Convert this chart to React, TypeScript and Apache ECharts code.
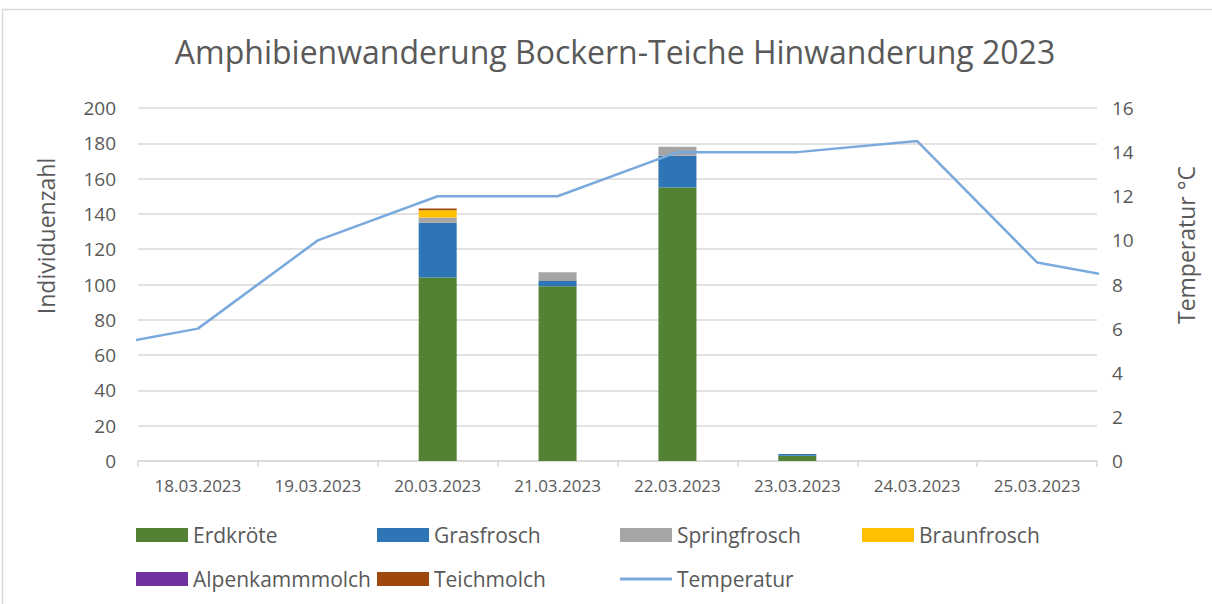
import React, { useEffect, useRef } from "react";
import * as echarts from "echarts";

const categories = ["18.03.2023", "19.03.2023", "20.03.2023", "21.03.2023", "22.03.2023", "23.03.2023", "24.03.2023", "25.03.2023"];
const erdkroete = [0, 0, 104, 99, 155, 3, 0, 0];
const grasfrosch = [0, 0, 31, 3, 18, 1, 0, 0];
const springfrosch = [0, 0, 3, 5, 5, 0, 0, 0];
const braunfrosch = [0, 0, 4, 0, 0, 0, 0, 0];
const alpenkammmolch = [0, 0, 0, 0, 0, 0, 0, 0];
const teichmolch = [0, 0, 1, 0, 0, 0, 0, 0];
// temperature from 17.03 to 26.03 (first and last lie outside the visible axis range)
const tempDays = ["17.03.2023", ...categories, "26.03.2023"];
const temperatur = [5, 6, 10, 12, 12, 14, 14, 14.5, 9, 8];

const leftTicks = { min: 0, max: 200, interval: 20 };
const rightTicks = { min: 0, max: 16, interval: 2 };

const barSeries = [
  { name: "Erdkröte", data: erdkroete, color: "#548235" },
  { name: "Grasfrosch", data: grasfrosch, color: "#2e75b6" },
  { name: "Springfrosch", data: springfrosch, color: "#a5a5a5" },
  { name: "Braunfrosch", data: braunfrosch, color: "#ffc000" },
  { name: "Alpenkammmolch", data: alpenkammmolch, color: "#7030a0" },
  { name: "Teichmolch", data: teichmolch, color: "#9e480e" },
];

const legendPos = [
  { name: "Erdkröte", left: 136, top: 523, h: 14 },
  { name: "Grasfrosch", left: 377, top: 523, h: 14 },
  { name: "Springfrosch", left: 620, top: 523, h: 14 },
  { name: "Braunfrosch", left: 862, top: 523, h: 14 },
  { name: "Alpenkammmolch", left: 136, top: 567, h: 14 },
  { name: "Teichmolch", left: 377, top: 567, h: 14 },
  { name: "Temperatur", left: 620, top: 567, h: 3 },
];

const FONT = "'Open Sans', sans-serif";
const TXT = "#595959";

export default function App() {
  const ref = useRef<HTMLDivElement>(null);
  useEffect(() => {
    if (!ref.current) return;
    const chart = echarts.init(ref.current, null, { renderer: "svg" });
    const lineX = tempDays.map((_, i) => i - 1);
    chart.setOption({
      animation: false,
      backgroundColor: "#ffffff",
      textStyle: { fontFamily: FONT },
      title: {
        text: "Amphibienwanderung Bockern-Teiche Hinwanderung 2023",
        left: 610,
        textAlign: "center",
        top: 30,
        textStyle: { fontFamily: FONT, fontSize: 32, fontWeight: "normal", color: TXT },
      },
      legend: legendPos.map((l) => ({
        data: [{ name: l.name, icon: "rect" }],
        left: l.left,
        top: l.top,
        itemWidth: 52,
        itemHeight: l.h,
        itemGap: 0,
        padding: 0,
        textStyle: { fontFamily: FONT, fontSize: 21, lineHeight: 24, color: TXT },
      })),
      grid: { left: 138, right: 115, top: 108, bottom: 143, containLabel: false },
      xAxis: [
        {
          type: "category",
          data: categories,
          axisLine: { lineStyle: { color: "#d9d9d9", width: 1.5 } },
          axisTick: { show: true, length: 6, interval: 0, lineStyle: { color: "#d9d9d9", width: 1.5 } },
          axisLabel: { fontFamily: FONT, fontSize: 17, color: TXT, margin: 16, interval: 0 },
        },
        {
          type: "value",
          show: false,
          min: -0.5,
          max: 7.5,
          position: "bottom",
        },
      ],
      yAxis: [
        {
          type: "value",
          ...leftTicks,
          axisLine: { show: false },
          axisTick: { show: false },
          splitLine: { lineStyle: { color: "#d9d9d9", width: 1.5 } },
          axisLabel: { fontFamily: FONT, fontSize: 19, color: TXT, margin: 22 },
        },
        {
          type: "value",
          ...rightTicks,
          axisLine: { show: false },
          axisTick: { show: false },
          splitLine: { show: false },
          axisLabel: { fontFamily: FONT, fontSize: 19, color: TXT, margin: 15 },
        },
      ],
      graphic: [
        {
          type: "rect",
          shape: { x: 2.5, y: 9.5, width: 1400, height: 800 },
          style: { fill: "none", stroke: "#d9d9d9", lineWidth: 1.5 },
          silent: true,
        },
        {
          type: "text",
          x: 46,
          y: 236,
          rotation: Math.PI / 2,
          style: { text: "Individuenzahl", font: `23px ${FONT}`, fill: TXT, align: "center", verticalAlign: "middle" },
        },
        {
          type: "text",
          x: 1186,
          y: 245,
          rotation: Math.PI / 2,
          style: { text: "Temperatur °C", font: `23px ${FONT}`, fill: TXT, align: "center", verticalAlign: "middle" },
        },
      ],
      series: [
        ...barSeries.map((s) => ({
          name: s.name,
          type: "bar",
          stack: "total",
          data: s.data,
          barWidth: 38,
          itemStyle: { color: s.color },
          xAxisIndex: 0,
          yAxisIndex: 0,
        })),
        {
          name: "Temperatur",
          type: "line",
          xAxisIndex: 1,
          yAxisIndex: 1,
          data: temperatur.map((v, i) => [lineX[i], v]),
          symbol: "none",
          clip: true,
          color: "#7aaadd",
          lineStyle: { color: "#7aaadd", width: 2.5 },
          z: 5,
        },
      ],
    });
    return () => chart.dispose();
  }, []);
  return (
    <div
      ref={ref}
      style={{ position: "fixed", left: 0, top: 0, width: 1212, height: 604 }}
    />
  );
}
